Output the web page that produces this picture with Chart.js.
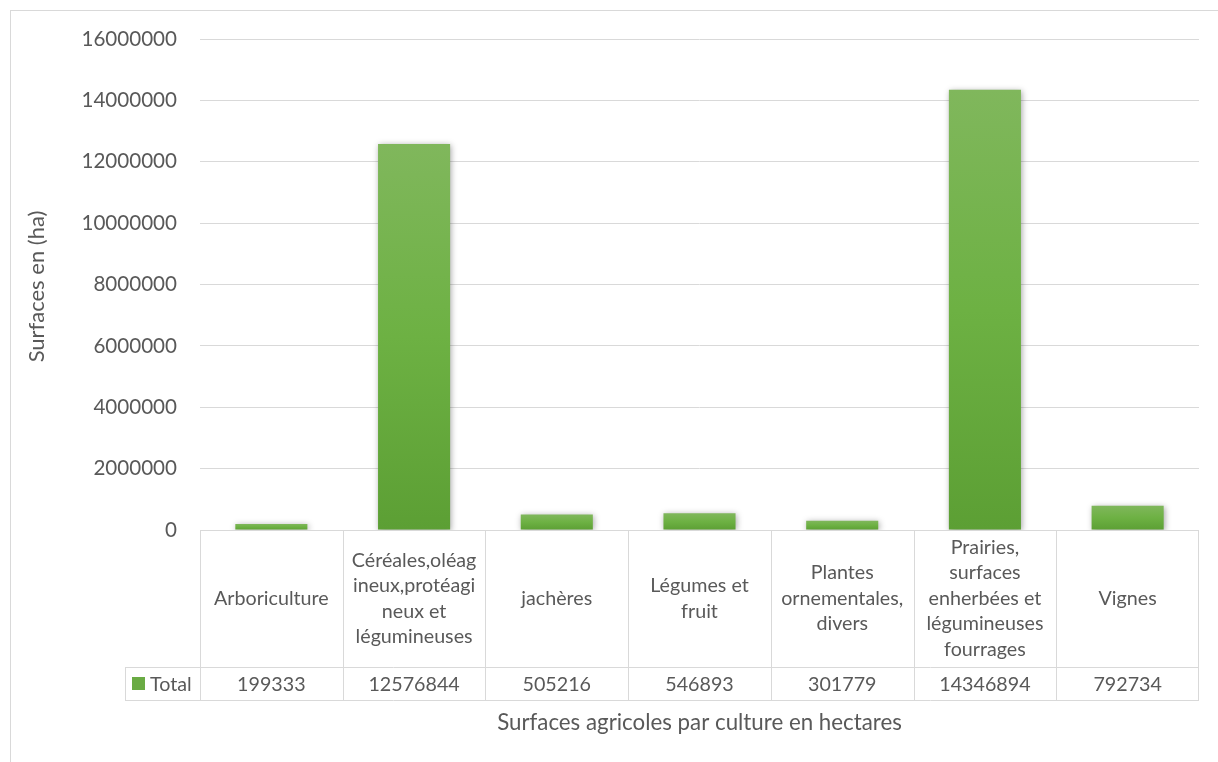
<!DOCTYPE html>
<html>
<head>
<meta charset="utf-8">
<script src="https://cdn.jsdelivr.net/npm/chart.js@4"></script>
<style>
html, body { margin: 0; padding: 0; background: #fff; }
#wrap { width: 1218px; height: 762px; }
</style>
</head>
<body>
<div id="wrap"><canvas id="c"></canvas></div>
<script>
var categories = [
	['Arboriculture'],
	['Céréales,oléag', 'ineux,protéagi', 'neux et', 'légumineuses'],
	['jachères'],
	['Légumes et', 'fruit'],
	['Plantes', 'ornementales,', 'divers'],
	['Prairies,', 'surfaces', 'enherbées et', 'légumineuses', 'fourrages'],
	['Vignes']
];
var totals = [199333, 12576844, 505216, 546893, 301779, 14346894, 792734];
var seriesName = 'Total';
var yMax = 16000000;
var yStep = 2000000;
var xTitle = 'Surfaces agricoles par culture en hectares';
var yTitle = 'Surfaces en (ha)';

var FONT = 'Lato, "Noto Sans", sans-serif';
var TEXT = '#595959';
var LINE = '#d9d9d9';

function barFill(c) {
	var chart = c.chart;
	var y = chart.scales.y;
	if (!y || c.raw === undefined) return '#70ad47';
	var top = y.getPixelForValue(c.raw);
	var bottom = y.getPixelForValue(0);
	if (!isFinite(top) || bottom - top < 1) return '#6aab44';
	var g = chart.ctx.createLinearGradient(0, top, 0, bottom);
	g.addColorStop(0, '#80b75c');
	g.addColorStop(0.5, '#6db143');
	g.addColorStop(1, '#5c9f34');
	return g;
}

var shadowPlugin = {
	id: 'shadow',
	beforeDatasetsDraw: function(chart) {
		var ctx = chart.ctx;
		ctx.save();
		ctx.shadowColor = 'rgba(0,0,0,0.35)';
		ctx.shadowBlur = 6;
		ctx.shadowOffsetX = 1;
		ctx.shadowOffsetY = 1;
	},
	afterDatasetsDraw: function(chart) {
		chart.ctx.restore();
	}
};

var tablePlugin = {
	id: 'dataTable',
	afterDraw: function(chart) {
		var ctx = chart.ctx;
		var area = chart.chartArea;
		var x = chart.scales.x;
		var n = categories.length;
		var colW = (area.right - area.left) / n;
		var top = area.bottom, mid = 667, bot = 700, legendLeft = 125;

		ctx.save();
		ctx.strokeStyle = LINE;
		ctx.lineWidth = 1;
		ctx.beginPath();
		ctx.moveTo(area.left, top + 0.5); ctx.lineTo(area.right, top + 0.5);
		ctx.moveTo(legendLeft, mid + 0.5); ctx.lineTo(area.right, mid + 0.5);
		ctx.moveTo(legendLeft, bot + 0.5); ctx.lineTo(area.right, bot + 0.5);
		for (var i = 0; i <= n; i++) {
			var xe = Math.round(x.getPixelForValue(i) - colW / 2) + 0.5;
			if (i === n) xe = Math.round(x.getPixelForValue(n - 1) + colW / 2) - 0.5;
			ctx.moveTo(xe, top); ctx.lineTo(xe, bot);
		}
		ctx.moveTo(legendLeft + 0.5, mid); ctx.lineTo(legendLeft + 0.5, bot);
		ctx.stroke();

		ctx.fillStyle = TEXT;
		ctx.font = '19.7px ' + FONT;
		ctx.textAlign = 'center';
		ctx.textBaseline = 'middle';
		var lh = 25.5;
		var hc = (top + mid) / 2;
		for (var j = 0; j < n; j++) {
			var cx = x.getPixelForValue(j);
			var lines = categories[j];
			var y0 = hc - (lines.length - 1) * lh / 2;
			for (var k = 0; k < lines.length; k++) {
				ctx.fillText(lines[k], cx, y0 + k * lh);
			}
			ctx.fillText(String(totals[j]), cx, (mid + bot) / 2 + 1);
		}

		ctx.fillStyle = '#6aab44';
		ctx.fillRect(132, 677, 13, 13);
		ctx.fillStyle = TEXT;
		ctx.textAlign = 'left';
		ctx.fillText(seriesName, 150, (mid + bot) / 2 + 1);

		ctx.font = '22.3px ' + FONT;
		ctx.textAlign = 'center';
		ctx.fillText(xTitle, (area.left + area.right) / 2, 723);

		ctx.font = '22px ' + FONT;
		ctx.translate(37, (area.top + area.bottom) / 2 + 2);
		ctx.rotate(-Math.PI / 2);
		ctx.fillText(yTitle, 0, 0);
		ctx.restore();

		ctx.save();
		ctx.strokeStyle = LINE;
		ctx.lineWidth = 1;
		ctx.strokeRect(10.5, 10.5, 1400, 900);
		ctx.restore();
	}
};

new Chart(document.getElementById('c'), {
	type: 'bar',
	data: {
		labels: categories,
		datasets: [{
			label: seriesName,
			data: totals,
			backgroundColor: barFill,
			borderWidth: 0,
			barPercentage: 0.505,
			categoryPercentage: 1
		}]
	},
	options: {
		responsive: true,
		maintainAspectRatio: false,
		animation: false,
		layout: { padding: { left: 0, top: 39, right: 19, bottom: 232 } },
		plugins: { legend: { display: false }, tooltip: { enabled: false } },
		scales: {
			x: { display: false },
			y: {
				min: 0,
				max: yMax,
				afterFit: function(s) { s.width = 200; },
				border: { display: false },
				grid: { color: LINE, lineWidth: 1, drawTicks: false },
				ticks: {
					stepSize: yStep,
					padding: 23,
					color: TEXT,
					font: { family: FONT, size: 20.6 },
					callback: function(v) { return String(v); }
				}
			}
		}
	},
	plugins: [shadowPlugin, tablePlugin]
});
</script>
</body>
</html>
